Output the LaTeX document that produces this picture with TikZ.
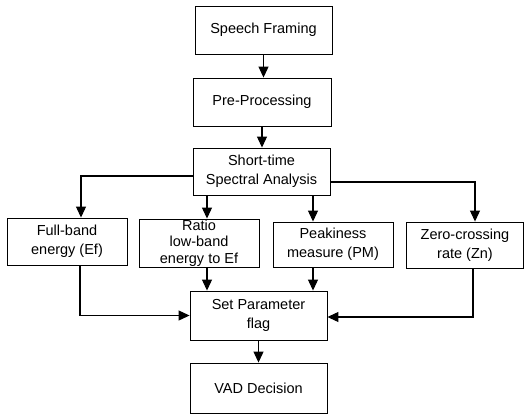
\documentclass[tikz,border=0pt]{standalone}
\usepackage{fontspec}
\setmainfont{Liberation Sans}
\usetikzlibrary{arrows.meta,calc}
\begin{document}
\begin{tikzpicture}[x=1pt,y=-1pt,
  box/.style={draw,line width=0.9pt,rectangle,inner sep=0pt,align=center,font=\fontsize{14.5}{19}\selectfont},
  arr/.style={line width=1.1pt,-{Triangle[length=11pt,width=10pt]}},
  ln/.style={line width=1.1pt}]
\useasboundingbox (0,0) rectangle (530,416);
\node[box,minimum width=137pt,minimum height=48pt] (SF) at (263.5,30) {Speech Framing};
\node[box,minimum width=138pt,minimum height=48pt] (PP) at (262,102) {Pre-Processing};
\node[box,minimum width=137pt,minimum height=47pt] (STA) at (261.5,171.5) {Short-time\\Spectral Analysis};
\node[box,minimum width=120pt,minimum height=47pt] (FB) at (67,241.5) {Full-band\\energy (Ef)};
\node[box,minimum width=120pt,minimum height=48pt,font=\fontsize{14.5}{16.5}\selectfont] (RA) at (199,243) {Ratio\\low-band\\energy to Ef};
\node[box,minimum width=120pt,minimum height=45pt] (PK) at (333,244.5) {Peakiness\\measure (PM)};
\node[box,minimum width=117pt,minimum height=46pt] (ZC) at (465,245) {Zero-crossing\\rate (Zn)};
\node[box,minimum width=137pt,minimum height=49pt] (SP) at (258.5,315.5) {Set Parameter\\flag};
\node[box,minimum width=137pt,minimum height=50pt] (VAD) at (258.5,388) {VAD Decision};
\draw[arr] (SF.south) -- (SF.south |- PP.north);
\draw[arr] (PP.south) -- (PP.south |- STA.north);
\draw[arr] ([yshift=-4.5pt]STA.west) -| ([xshift=14pt]FB.north);
\draw[arr] ([xshift=8pt]RA.north |- STA.south) -- ([xshift=8pt]RA.north);
\draw[arr] ([xshift=-20pt]PK.north |- STA.south) -- ([xshift=-20pt]PK.north);
\draw[arr] ([yshift=-10.5pt]STA.east) -| ([xshift=10pt]ZC.north);
\draw[arr] ([xshift=13pt]FB.south) |- (SP.west);
\draw[arr] ([xshift=8pt]RA.south) -- ([xshift=8pt]RA.south |- SP.north);
\draw[arr] ([xshift=-20pt]PK.south) -- ([xshift=-20pt]PK.south |- SP.north);
\draw[arr] ([xshift=8pt]ZC.south) |- ([yshift=-1.5pt]SP.east);
\draw[arr] (SP.south) -- (SP.south |- VAD.north);
\end{tikzpicture}
\end{document}
